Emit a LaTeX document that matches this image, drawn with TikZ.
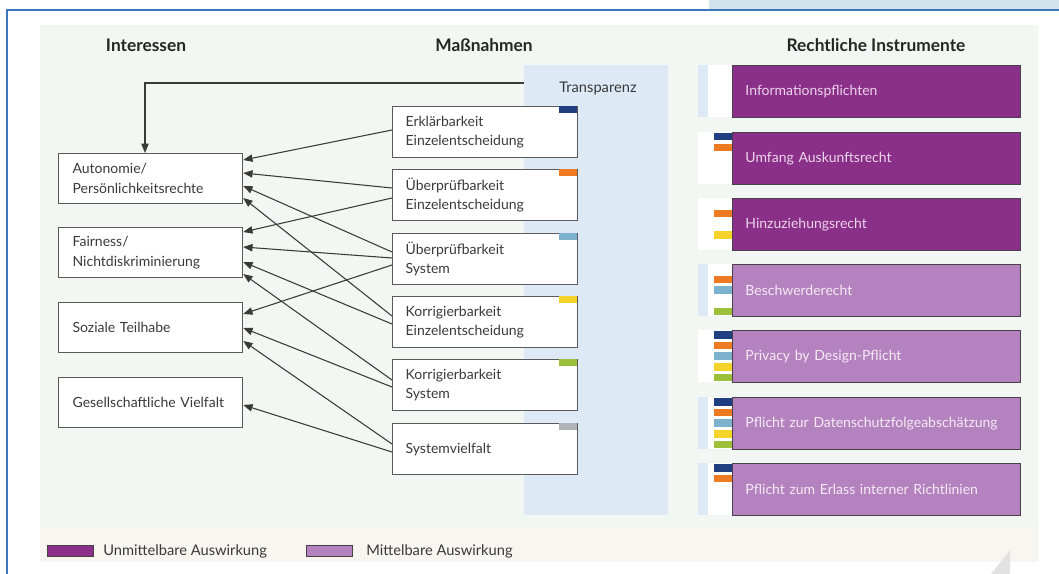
\documentclass[tikz,border=0pt]{standalone}
\usepackage{fontspec}
\setmainfont{Lato}
\usetikzlibrary{arrows.meta,calc}
\definecolor{panelbg}{HTML}{F3F7F3}
\definecolor{legendbg}{HTML}{F7F6F0}
\definecolor{transp}{HTML}{DDEAF6}
\definecolor{topband}{HTML}{D3E3EE}
\definecolor{frameblue}{HTML}{3A77BF}
\definecolor{purpleD}{HTML}{8B3088}
\definecolor{purpleL}{HTML}{B483BF}
\definecolor{pborder}{HTML}{4A404A}
\definecolor{ptextD}{HTML}{EBD5EB}
\definecolor{ptextL}{HTML}{F5EAF5}
\definecolor{tabblue}{HTML}{1F3F80}
\definecolor{taborange}{HTML}{EE7A22}
\definecolor{tablight}{HTML}{7DB2CF}
\definecolor{tabyellow}{HTML}{F5D328}
\definecolor{tabgreen}{HTML}{9DC03A}
\definecolor{tabgray}{HTML}{B3B3BA}
\definecolor{boxgray}{HTML}{5A5A5A}
\definecolor{txt}{HTML}{3A3A3A}
\definecolor{arrowgray}{HTML}{3A3A3A}
\definecolor{wmgray}{HTML}{E2E2E2}
\begin{document}
\begin{tikzpicture}[x=0.75pt,y=-0.75pt,
  header/.style={font=\fontsize{13}{15}\selectfont\bfseries, text=black!85},
  ibox/.style={draw=boxgray, line width=0.9pt, fill=white, anchor=north west,
    inner xsep=10.5pt, inner ysep=0pt, text width=117pt, minimum height=37.5pt,
    align=left, font=\fontsize{10.5}{15}\selectfont, text=txt},
  mbox/.style={draw=boxgray, line width=0.9pt, fill=white, anchor=north west,
    inner xsep=9.75pt, inner ysep=0pt, text width=119.25pt, minimum height=38.25pt,
    align=left, font=\fontsize{10.5}{14.25}\selectfont, text=txt},
  pbox/.style={draw=pborder, line width=0.7pt, anchor=north west,
    inner xsep=9.75pt, inner ysep=0pt, text width=196.5pt, minimum height=39pt,
    align=left, font=\fontsize{10.5}{12}\selectfont},
  pdark/.style={pbox, fill=purpleD, text=ptextD},
  plight/.style={pbox, fill=purpleL, text=ptextL},
  conn/.style={draw=arrowgray, line width=0.8pt, -{Triangle[length=7pt,width=5.5pt]}},
  swatch/.style={draw=pborder, line width=0.7pt, anchor=west, inner sep=0pt, minimum width=34.5pt, minimum height=8pt},
  legendtxt/.style={anchor=west, font=\fontsize{11}{13}\selectfont, text=txt, inner sep=0pt}
]
\useasboundingbox (0,0) rectangle (1059,574);
\fill[white] (0,0) rectangle (1059,574);
\fill[topband] (709,0) rectangle (1059,9);
\fill[panelbg] (40,25) rectangle (1038,527);
\fill[legendbg] (40,527) rectangle (1038,562);
\draw[frameblue, line width=1.9pt] (7,574) -- (7,10) -- (1059,10);
\fill[wmgray] (1010,550) -- (1010,574) -- (991,574) -- cycle;

% headers
\node[header] (h1) at (146,45) {Interessen};
\node[header] (h2) at (484,45) {Maßnahmen};
\node[header] (h3) at (876,45) {Rechtliche Instrumente};

% Transparenz panel
\node[fill=transp, anchor=north west, inner sep=0pt, minimum width=108pt, minimum height=337.5pt] (trans) at (524,65) {};
\node[font=\fontsize{11}{13}\selectfont, text=txt] (transtxt) at (598,89) {Transparenz};

% interests
\node[ibox] (aut) at (58,153) {Autonomie/\\Persönlichkeitsrechte};
\node[ibox] (fair) at (58,227) {Fairness/\\Nichtdiskriminierung};
\node[ibox] (soz) at (58,302) {Soziale Teilhabe};
\node[ibox] (ges) at (58,377) {Gesellschaftliche Vielfalt};

% measures
\node[mbox] (erk) at (392,106) {Erklärbarkeit\\Einzelentscheidung};
\node[mbox] (ue) at (392,169) {Überprüfbarkeit\\Einzelentscheidung};
\node[mbox] (us) at (392,233) {Überprüfbarkeit\\System};
\node[mbox] (ke) at (392,296) {Korrigierbarkeit\\Einzelentscheidung};
\node[mbox] (ks) at (392,359) {Korrigierbarkeit\\System};
\node[mbox] (sv) at (392,423) {Systemvielfalt};
\fill[tabblue] (559,106) rectangle (577,113);
\fill[taborange] (559,169) rectangle (577,176);
\fill[tablight] (559,233) rectangle (577,240);
\fill[tabyellow] (559,296) rectangle (577,303);
\fill[tabgreen] (559,359) rectangle (577,366);
\fill[tabgray] (559,423) rectangle (577,430);

% connectors
\draw[conn] ([shift={(0,18)}]trans.north west) -| ([shift={(87,0)}]aut.north west);
\draw[conn] ([shift={(0,24)}]erk.north west) -- ([shift={(0,7)}]aut.north east);
\draw[conn] ([shift={(0,19)}]ue.north west) -- ([shift={(0,20)}]aut.north east);
\draw[conn] ([shift={(0,29)}]ue.north west) -- ([shift={(0,5)}]fair.north east);
\draw[conn] ([shift={(0,19)}]us.north west) -- ([shift={(0,33)}]aut.north east);
\draw[conn] ([shift={(0,25)}]us.north west) -- ([shift={(0,20)}]fair.north east);
\draw[conn] ([shift={(0,32)}]us.north west) -- ([shift={(0,12)}]soz.north east);
\draw[conn] ([shift={(0,20)}]ke.north west) -- ([shift={(0,45)}]aut.north east);
\draw[conn] ([shift={(0,28)}]ke.north west) -- ([shift={(0,35)}]fair.north east);
\draw[conn] ([shift={(0,21)}]ks.north west) -- ([shift={(0,47)}]fair.north east);
\draw[conn] ([shift={(0,28)}]ks.north west) -- ([shift={(0,26)}]soz.north east);
\draw[conn] ([shift={(0,21)}]sv.north west) -- ([shift={(0,39)}]soz.north east);
\draw[conn] ([shift={(0,29)}]sv.north west) -- ([shift={(0,28)}]ges.north east);

% legal instruments: row backgrounds
\fill[white] (698,65) rectangle (1020,117);
\fill[transp] (698,65) rectangle (708,117);
\fill[white] (698,132) rectangle (1020,184);
\fill[white] (698,198) rectangle (1020,250);
\fill[white] (698,264) rectangle (1020,316);
\fill[transp] (698,264) rectangle (708,316);
\fill[white] (698,330) rectangle (1020,382);
\fill[white] (698,397) rectangle (1020,449);
\fill[transp] (698,397) rectangle (708,449);
\fill[white] (698,463) rectangle (1020,515);
\fill[transp] (698,463) rectangle (708,515);

% tabs
\fill[tabblue] (714,133) rectangle (732,140.5);
\fill[taborange] (714,143.7) rectangle (732,151.2);
\fill[taborange] (714,209.7) rectangle (732,217.2);
\fill[tabyellow] (714,231.1) rectangle (732,238.6);
\fill[taborange] (714,275.7) rectangle (732,283.2);
\fill[tablight] (714,286.4) rectangle (732,293.9);
\fill[tabgreen] (714,307.8) rectangle (732,315.3);
\fill[tabblue] (714,331) rectangle (732,338.5);
\fill[taborange] (714,341.7) rectangle (732,349.2);
\fill[tablight] (714,352.4) rectangle (732,359.9);
\fill[tabyellow] (714,363.1) rectangle (732,370.6);
\fill[tabgreen] (714,373.8) rectangle (732,381.3);
\fill[tabblue] (714,398) rectangle (732,405.5);
\fill[taborange] (714,408.7) rectangle (732,416.2);
\fill[tablight] (714,419.4) rectangle (732,426.9);
\fill[tabyellow] (714,430.1) rectangle (732,437.6);
\fill[tabgreen] (714,440.8) rectangle (732,448.3);
\fill[tabblue] (714,464) rectangle (732,471.5);
\fill[taborange] (714,474.7) rectangle (732,482.2);

\node[pdark] (r1) at (732,65) {Informationspflichten};
\node[pdark] (r2) at (732,132) {Umfang Auskunftsrecht};
\node[pdark] (r3) at (732,198) {Hinzuziehungsrecht};
\node[plight] (r4) at (732,264) {Beschwerderecht};
\node[plight] (r5) at (732,330) {Privacy by Design-Pflicht};
\node[plight] (r6) at (732,397) {Pflicht zur Datenschutzfolgeabschätzung};
\node[plight] (r7) at (732,463) {Pflicht zum Erlass interner Richtlinien};

% legend
\node[swatch, fill=purpleD] (lg1) at (47,551) {};
\node[legendtxt] (lg1t) at (103,551) {Unmittelbare Auswirkung};
\node[swatch, fill=purpleL] (lg2) at (306,551) {};
\node[legendtxt] (lg2t) at (366,551) {Mittelbare Auswirkung};
\end{tikzpicture}
\end{document}
